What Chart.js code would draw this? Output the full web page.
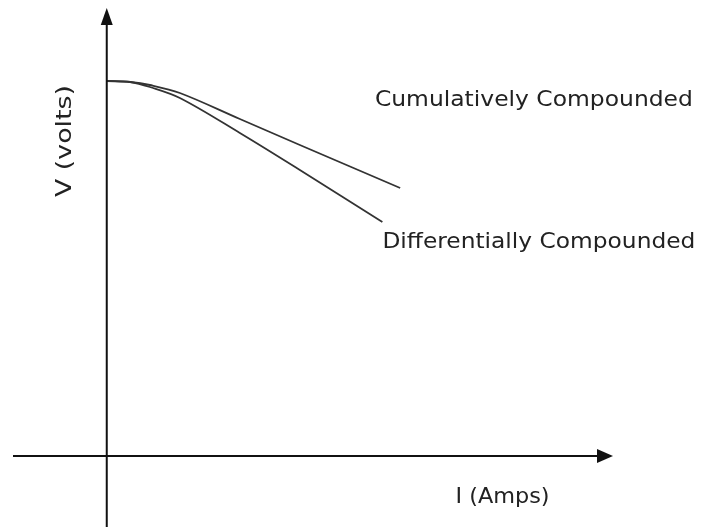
<!DOCTYPE html>
<html>
<head>
<meta charset="utf-8">
<script src="https://cdn.jsdelivr.net/npm/chart.js@4"></script>
<style>
  html, body { margin: 0; padding: 0; background: #fff; }
  #wrap { width: 703px; height: 529px; }
</style>
</head>
<body>
<div id="wrap"><canvas id="vi"></canvas></div>
<script>
// current (arbitrary units) and terminal voltage
const cumulativeI = [0, 2.5, 4.6, 7.8, 14.2, 20.6, 31.3];
const cumulativeV = [37.5, 37.4, 37.1, 36.3, 33.7, 31.1, 26.8];
const differentialI = [0, 2.5, 4.6, 7.8, 14.2, 20.6, 29.4];
const differentialV = [37.5, 37.4, 36.9, 35.8, 32.3, 28.6, 23.4];

const curveLabels = ["Cumulatively Compounded", "Differentially Compounded"];
const xAxisTitle = "I (Amps)";
const yAxisTitle = "V (volts)";

const toPoints = (xs, ys) => xs.map((x, i) => ({ x: x, y: ys[i] }));

// draws the two arrowed axes through the origin and the hand-placed captions
const sketchAxes = {
    id: "sketchAxes",
    afterDatasetsDraw(chart) {
        const ctx = chart.ctx;
        const xs = chart.scales.x;
        const ys = chart.scales.y;
        const ox = xs.getPixelForValue(0);
        const oy = ys.getPixelForValue(0);
        const left = chart.chartArea.left;
        const right = chart.chartArea.right;
        const top = chart.chartArea.top;
        const bottom = chart.chartArea.bottom;

        ctx.save();
        ctx.strokeStyle = "#111";
        ctx.fillStyle = "#111";
        ctx.lineWidth = 2;

        ctx.beginPath();
        ctx.moveTo(left, oy);
        ctx.lineTo(right - 10, oy);
        ctx.moveTo(ox, bottom);
        ctx.lineTo(ox, top + 10);
        ctx.stroke();

        // arrow heads
        ctx.beginPath();
        ctx.moveTo(right, oy);
        ctx.lineTo(right - 16, oy - 7);
        ctx.lineTo(right - 16, oy + 7);
        ctx.closePath();
        ctx.fill();
        ctx.beginPath();
        ctx.moveTo(ox, top);
        ctx.lineTo(ox - 6, top + 17);
        ctx.lineTo(ox + 6, top + 17);
        ctx.closePath();
        ctx.fill();

        const fitText = (text, x, y, width, size, rotate) => {
            ctx.save();
            ctx.font = size + "px 'DejaVu Sans'";
            ctx.textBaseline = "alphabetic";
            ctx.textAlign = "left";
            const w = ctx.measureText(text).width;
            ctx.translate(x, y);
            if (rotate) ctx.rotate(-Math.PI / 2);
            ctx.scale(width / w, 1);
            ctx.fillStyle = "#222";
            ctx.fillText(text, 0, 0);
            ctx.restore();
        };

        fitText(curveLabels[0], xs.getPixelForValue(28.6), ys.getPixelForValue(35.0), 318, 21, false);
        fitText(curveLabels[1], xs.getPixelForValue(29.4), ys.getPixelForValue(20.8), 313, 21, false);
        fitText(xAxisTitle, xs.getPixelForValue(37.2), ys.getPixelForValue(-4.7), 94, 21, false);
        fitText(yAxisTitle, xs.getPixelForValue(-3.8), ys.getPixelForValue(25.9), 112, 21, true);
        ctx.restore();
    },
};

const ctx = document.getElementById("vi").getContext("2d");

const data = {
    datasets: [
        {
            label: curveLabels[0],
            data: toPoints(cumulativeI, cumulativeV),
            borderColor: "#333",
            borderWidth: 1.8,
            pointRadius: 0,
            tension: 0.35,
            showLine: true,
            fill: false,
        },
        {
            label: curveLabels[1],
            data: toPoints(differentialI, differentialV),
            borderColor: "#333",
            borderWidth: 1.8,
            pointRadius: 0,
            tension: 0.35,
            showLine: true,
            fill: false,
        },
    ],
};

const config = {
    type: "scatter",
    data: data,
    options: {
        responsive: true,
        maintainAspectRatio: false,
        animation: false,
        layout: { padding: { left: 13, right: 90, top: 8, bottom: 2 } },
        plugins: {
            legend: { display: false },
            tooltip: { enabled: false },
        },
        scales: {
            x: { type: "linear", min: -10, max: 54, display: false },
            y: { type: "linear", min: -7.1, max: 44.8, display: false },
        },
    },
    plugins: [sketchAxes],
};

const chart = new Chart(ctx, config);
</script>
</body>
</html>
